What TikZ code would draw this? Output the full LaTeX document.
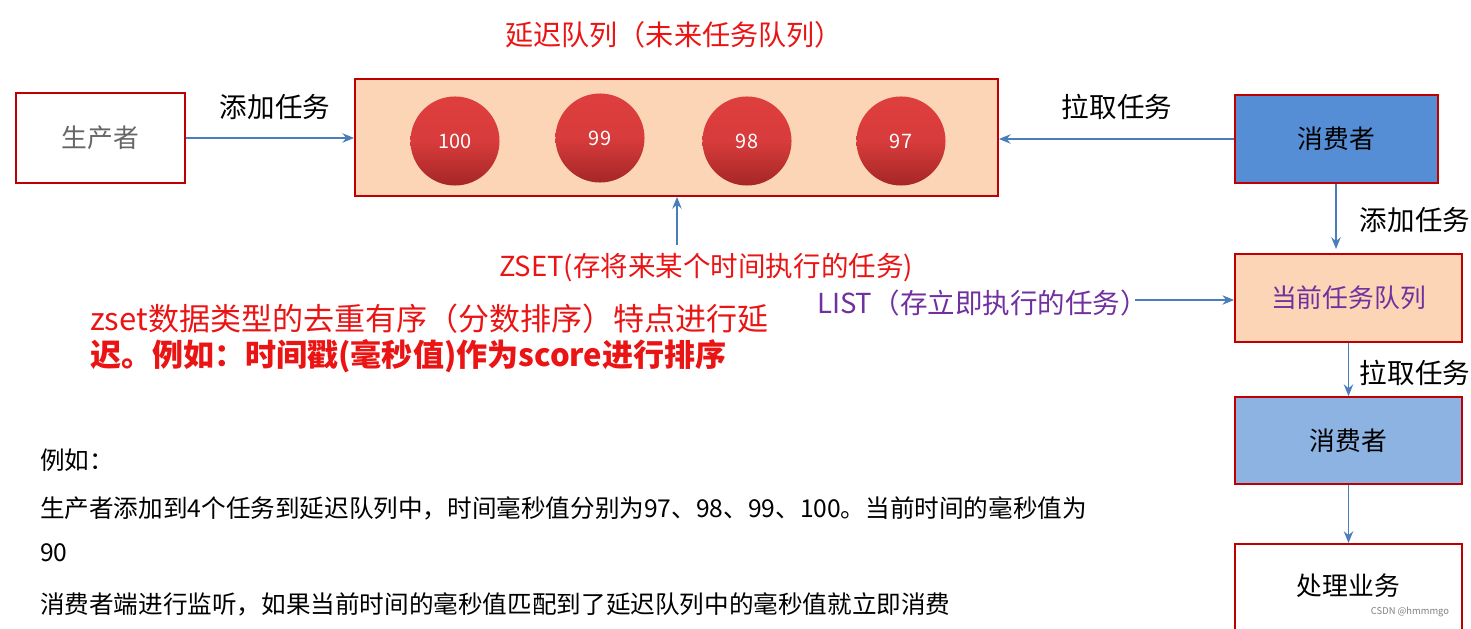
\documentclass[tikz,border=0pt]{standalone}
\usepackage{fontspec}
\setmainfont{Noto Sans CJK SC}
\usetikzlibrary{arrows.meta}
\definecolor{dred}{RGB}{192,0,0}
\definecolor{peach}{RGB}{251,213,181}
\definecolor{blueA}{RGB}{85,142,213}
\definecolor{blueB}{RGB}{141,179,226}
\definecolor{arr}{RGB}{74,126,187}
\definecolor{purp}{RGB}{112,48,160}
\definecolor{tred}{RGB}{235,20,20}
\definecolor{balltop}{RGB}{222,62,62}
\definecolor{ballbot}{RGB}{165,38,38}
\tikzset{
 box/.style={draw=dred,line width=1.5pt,inner sep=0pt},
 conn/.style={draw=arr,line width=1.5pt,-{Stealth[length=10pt,width=8pt]}},
 lbl/.style={font=\fontsize{23.5}{28}\selectfont},
 ballst/.style={circle,minimum size=76pt,inner sep=0pt,top color=balltop,bottom color=ballbot,middle color=balltop!90!ballbot,text=white,font=\fontsize{17}{18}\selectfont},
 small/.style={font=\fontsize{21}{24}\selectfont,anchor=west}
}
\begin{document}
\begin{tikzpicture}[x=0.03cm,y=-0.03cm]
\useasboundingbox (0,0) rectangle (1471,629);
\node[text=tred,font=\fontsize{24}{28}\selectfont] (title) at (674,35) {延迟队列（未来任务队列）};
\node[box,minimum width=169*0.03cm,minimum height=90*0.03cm,text=black!60,font=\fontsize{22}{26}\selectfont] (prod) at (100.5,138) {生产者};
\node[box,fill=peach,minimum width=643*0.03cm,minimum height=117*0.03cm] (q) at (676.5,137.5) {};
\node[ballst] (b1) at (455,141) {100};
\node[ballst] (b2) at (600,138) {99};
\node[ballst] (b3) at (747,141) {98};
\node[ballst] (b4) at (901,141) {97};
\node[box,fill=blueA,minimum width=203*0.03cm,minimum height=88*0.03cm,font=\fontsize{22}{26}\selectfont] (c1) at (1336.5,139) {消费者};
\draw[conn] (prod.east) -- (q.west|-prod.east);
\node[lbl] (l1) at (275,107) {添加任务};
\draw[conn] (c1.west) -- (q.east|-c1.west);
\node[lbl] (l2) at (1117,107) {拉取任务};
\coordinate (zs) at (677,245);
\draw[conn] (zs) -- (q.south-|zs);
\node[text=tred,lbl] (zset) at (706,268) {ZSET(存将来某个时间执行的任务)};
\node[text=tred,anchor=west,font=\fontsize{26.5}{30}\selectfont] (r1) at (86,319) {zset数据类型的去重有序（分数排序）特点进行延};
\node[text=tred,anchor=west,font=\bfseries\fontsize{26.5}{30}\selectfont] (r2) at (86,356) {迟。例如：时间戳(毫秒值)作为score进行排序};
\node[box,fill=peach,minimum width=227*0.03cm,minimum height=88*0.03cm,text=purp,font=\fontsize{22}{26}\selectfont] (cur) at (1348.5,298) {当前任务队列};
\draw[conn] (c1.south-|1336,0) -- (1336,249);
\node[lbl] (l3) at (1415,220) {添加任务};
\node[text=purp,lbl,anchor=west] (list) at (813,303) {LIST（存立即执行的任务）};
\coordinate (la) at (1135,300);
\draw[conn] (la) -- (cur.west|-la);
\node[box,fill=blueB,minimum width=227*0.03cm,minimum height=87*0.03cm,font=\fontsize{22}{26}\selectfont] (c2) at (1348.5,440.5) {消费者};
\draw[conn] (cur.south) -- (c2.north);
\node[lbl] (l4) at (1415,373) {拉取任务};
\node[box,fill=white,minimum width=227*0.03cm,minimum height=100*0.03cm,anchor=north] (biz) at (1348.5,543) {};
\node[font=\fontsize{22}{26}\selectfont] (bizt) at (1348.5,586) {处理业务};
\draw[conn] (c2.south) -- (biz.north);
\node[small] (e0) at (36,460) {例如：};
\node[small] (e1) at (36,508) {生产者添加到4个任务到延迟队列中，时间毫秒值分别为97、98、99、100。当前时间的毫秒值为};
\node[small] (e2) at (36,553) {90};
\node[small] (e3) at (36,604) {消费者端进行监听，如果当前时间的毫秒值匹配到了延迟队列中的毫秒值就立即消费};
\node[text=black!50,font=\fontsize{8}{10}\selectfont] (wm) at (1410,612) {CSDN @hmmmgo};
\end{tikzpicture}
\end{document}
